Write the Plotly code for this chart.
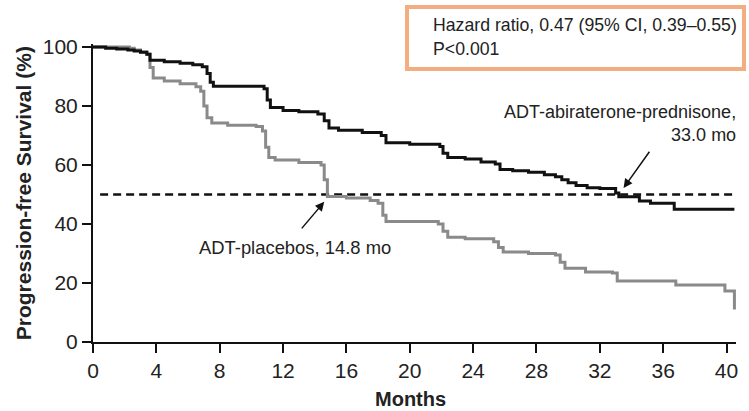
import plotly.graph_objects as go

# ---------------- data ----------------
abi_months = [0, 0.8, 1.5, 2.2, 2.6, 3.0, 3.4, 3.6, 4.5, 5.5, 6.3, 6.9, 7.2, 7.4, 7.6,
              10.8, 11.0, 11.2, 12.0, 13.0, 14.2, 14.6, 14.9, 15.5, 17.0, 18.2, 18.5,
              20.0, 21.9, 22.1, 22.4, 23.5, 24.5, 25.4, 25.7, 26.5, 27.5, 28.5, 29.2,
              29.6, 30.0, 30.5, 31.2, 32.0, 33.0, 33.2, 34.5, 35.2, 36.7, 40.5]
abi_surv = [100, 99.6, 99.3, 99.0, 98.6, 98.2, 97.5, 95.5, 95.0, 94.5, 94.0, 93.3, 91.0, 88.0, 86.7,
            85.8, 82.0, 79.5, 78.5, 78.0, 77.3, 75.0, 72.5, 71.8, 71.0, 70.0, 67.5,
            67.0, 66.3, 64.0, 62.5, 62.0, 61.0, 60.3, 58.5, 58.0, 57.5, 56.7, 56.0,
            55.0, 54.0, 53.0, 52.3, 52.0, 50.5, 49.2, 47.8, 47.0, 45.0, 45.0]

pla_months = [0, 2.3, 2.6, 3.0, 3.4, 3.6, 3.8, 4.5, 5.5, 6.5, 6.8, 7.0, 7.2, 7.5, 8.5, 10.3,
              10.7, 10.9, 11.1, 11.5, 13.0, 14.4, 14.6, 14.8, 16.0, 17.5, 18.0, 18.3, 18.5,
              21.8, 22.1, 22.4, 23.5, 25.3, 25.6, 25.9, 27.5, 29.2, 29.5, 29.8, 31.1,
              32.8, 33.1, 36.8, 39.9, 40.5, 40.5]
pla_surv = [100, 99.6, 99.0, 98.3, 97.5, 93.0, 89.5, 88.5, 87.5, 86.5, 85.0, 80.0, 76.0, 74.2, 73.5, 73.0,
            71.5, 66.0, 62.5, 61.7, 60.8, 60.0, 55.0, 49.3, 48.8, 48.0, 47.0, 43.0, 40.8,
            40.0, 37.5, 35.5, 35.0, 34.0, 32.0, 30.5, 30.0, 29.5, 27.0, 25.0, 23.7,
            23.4, 20.7, 19.3, 17.3, 17.3, 11.0]

median_line_x = [0.45, 40.5]
median_line_y = [50, 50]

x_ticks = [0, 4, 8, 12, 16, 20, 24, 28, 32, 36, 40]
y_ticks = [0, 20, 40, 60, 80, 100]

hr_text = "Hazard ratio, 0.47 (95% CI, 0.39–0.55)"
p_text = "P<0.001"
placebo_label = "ADT-placebos, 14.8 mo"
abi_label = "ADT-abiraterone-prednisone,<br>33.0 mo"

# ---------------- layout geometry (pixels) ----------------
W, H = 749, 411
L, R, T, B = 93, 738, 44, 342
XR = [0, 40.6]
YR = [0, 101]

def pxx(px):
    return (px - L) / (R - L)

def pxy(py):
    return (B - py) / (B - T)

FONT = "Liberation Sans, Arial, Helvetica, sans-serif"
TXT = "#222222"

fig = go.Figure()

fig.add_trace(go.Scatter(x=median_line_x, y=median_line_y, mode="lines",
                         line=dict(color="#111111", width=2.5, dash="8px,5px"),
                         hoverinfo="skip", showlegend=False))
fig.add_trace(go.Scatter(x=pla_months, y=pla_surv, mode="lines", line_shape="hv",
                         line=dict(color="#8a8a8a", width=3), showlegend=False))
fig.add_trace(go.Scatter(x=abi_months, y=abi_surv, mode="lines", line_shape="hv",
                         line=dict(color="#111111", width=3), showlegend=False))

fig.update_layout(
    width=W, height=H,
    margin=dict(l=L, r=W - R, t=T, b=H - B, pad=0),
    paper_bgcolor="white", plot_bgcolor="white",
    font=dict(family=FONT, color=TXT),
    showlegend=False,
)
fig.update_xaxes(range=XR, tickvals=x_ticks, ticktext=[str(v) for v in x_ticks],
                 showgrid=False, zeroline=False, showline=True, linecolor="#111111",
                 linewidth=2, ticks="outside", ticklen=9, tickwidth=2, tickcolor="#111111",
                 tickfont=dict(size=21, family=FONT, color=TXT))
fig.update_yaxes(range=YR, tickvals=y_ticks, ticktext=[str(v) for v in y_ticks],
                 showgrid=False, zeroline=False, showline=True, linecolor="#111111",
                 linewidth=2, ticks="outside", ticklen=9, tickwidth=2, tickcolor="#111111",
                 tickfont=dict(size=21, family=FONT, color=TXT))

# axis titles
fig.add_annotation(text="<b>Months</b>", xref="paper", yref="paper",
                   x=pxx(411), y=pxy(399), xanchor="center", yanchor="middle",
                   showarrow=False, font=dict(size=20, family=FONT, color=TXT))
fig.add_annotation(text="<b>Progression-free Survival (%)</b>", xref="paper", yref="paper",
                   x=pxx(23), y=pxy(193), xanchor="center", yanchor="middle", textangle=-90,
                   showarrow=False, font=dict(size=21, family=FONT, color=TXT))

# hazard ratio box
fig.add_shape(type="rect", xref="paper", yref="paper",
              x0=pxx(408), x1=pxx(746), y0=pxy(69), y1=pxy(7),
              line=dict(color="#F2AE80", width=4), fillcolor="white", layer="above")
fig.add_annotation(text=hr_text, xref="paper", yref="paper", x=pxx(432), y=pxy(25),
                   xanchor="left", yanchor="middle", showarrow=False,
                   font=dict(size=17.7, family=FONT, color=TXT))
fig.add_annotation(text=p_text, xref="paper", yref="paper", x=pxx(432), y=pxy(49),
                   xanchor="left", yanchor="middle", showarrow=False,
                   font=dict(size=17.7, family=FONT, color=TXT))

# curve labels
fig.add_annotation(text=placebo_label, xref="paper", yref="paper", x=pxx(197), y=pxy(247),
                   xanchor="left", yanchor="middle", showarrow=False,
                   font=dict(size=18.4, family=FONT, color=TXT))
fig.add_annotation(text=abi_label, xref="paper", yref="paper", x=pxx(740), y=pxy(123),
                   xanchor="right", yanchor="middle", align="right", showarrow=False,
                   font=dict(size=18, family=FONT, color=TXT))

# arrows
fig.add_annotation(x=14.6, y=47.5, ax=13.1, ay=38, xref="x", yref="y", axref="x", ayref="y",
                   text="", showarrow=True, arrowhead=2, arrowsize=1.2, arrowwidth=1.5,
                   arrowcolor="#111111")
fig.add_annotation(x=33.5, y=52.2, ax=35.2, ay=65, xref="x", yref="y", axref="x", ayref="y",
                   text="", showarrow=True, arrowhead=2, arrowsize=1.2, arrowwidth=1.5,
                   arrowcolor="#111111")

fig.write_html("out.html",
               config={"displayModeBar": False},
               post_script="document.body.style.margin='0';document.body.style.overflow='hidden';")
